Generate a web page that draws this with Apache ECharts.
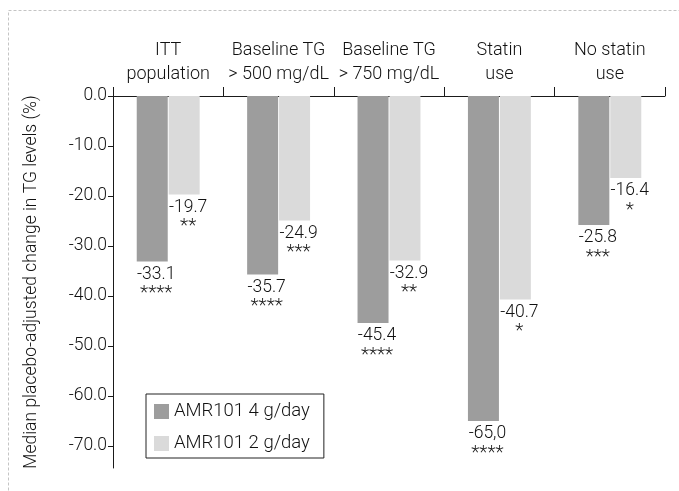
<!DOCTYPE html>
<html><head><meta charset="utf-8">
<script src="https://cdn.jsdelivr.net/npm/echarts@6/dist/echarts.min.js"></script>
<style>html,body{margin:0;padding:0;background:#fff}#c{width:679px;height:491px}</style>
</head><body><div id="c"></div>
<script>
const categories = ['ITT\npopulation', 'Baseline TG\n> 500 mg/dL', 'Baseline TG\n> 750 mg/dL', 'Statin\nuse', 'No statin\nuse'];
const dose4Values = [-33.1, -35.7, -45.4, -65.0, -25.8];
const dose2Values = [-19.7, -24.9, -32.9, -40.7, -16.4];
const dose4Text = ['-33.1', '-35.7', '-45.4', '-65,0', '-25.8'];
const dose2Text = ['-19.7', '-24.9', '-32.9', '-40.7', '-16.4'];
const dose4Stars = ['****', '****', '****', '****', '***'];
const dose2Stars = ['**', '***', '**', '*', '*'];
const yTicks = [0, -10, -20, -30, -40, -50, -60, -70];
const seriesNames = ['AMR101 4 g/day', 'AMR101 2 g/day'];

const FONT = 'Roboto';
const W = 300;
const TXT = '#111';
function mkLabel(texts, stars) {
  return {
    show: true, position: 'bottom', distance: 3, offset: [4, 0],
    formatter: p => '{v|' + texts[p.dataIndex] + '}\n{s|' + stars[p.dataIndex] + '}',
    rich: {
      v: { fontSize: 17.5, lineHeight: 20, color: TXT, fontFamily: FONT, fontWeight: W },
      s: { fontSize: 19, lineHeight: 18, color: '#222', fontFamily: FONT, fontWeight: W }
    }
  };
}
const chart = echarts.init(document.getElementById('c'));
chart.setOption({
  animation: false,
  textStyle: { fontFamily: FONT, color: TXT, fontWeight: W },
  graphic: [{
    type: 'rect', shape: { x: 8.5, y: 10.5, width: 720, height: 520 },
    style: { fill: 'none', stroke: '#c4c4c4', lineWidth: 1, lineDash: [3, 2] }, silent: true
  }],
  grid: { left: 113, right: 14, top: 96, bottom: 23, containLabel: false },
  legend: {
    orient: 'vertical', left: 146, top: 394,
    data: seriesNames,
    borderColor: '#222', borderWidth: 1, padding: [8, 14, 5, 8],
    itemWidth: 15, itemHeight: 15, itemGap: 13,
    icon: 'rect',
    textStyle: { fontSize: 18.5, color: TXT, fontFamily: FONT, fontWeight: W }
  },
  xAxis: {
    type: 'category', position: 'top', data: categories,
    axisLine: { show: true, onZero: false, lineStyle: { color: '#1a1a1a', width: 1 } },
    axisTick: { show: true, length: 9, lineStyle: { color: '#1a1a1a' } },
    axisLabel: { fontSize: 18, lineHeight: 24, color: TXT, margin: 10, interval: 0, fontFamily: FONT, fontWeight: W }
  },
  yAxis: {
    type: 'value', min: -74.4, max: 0,
    name: 'Median placebo-adjusted change in TG levels (%)',
    nameLocation: 'middle', nameGap: 72, nameRotate: 90,
    nameTextStyle: { fontSize: 17.5, color: TXT, fontFamily: FONT, fontWeight: W },
    splitLine: { show: false },
    axisLine: { show: true, lineStyle: { color: '#1a1a1a', width: 1 } },
    axisTick: { show: true, length: 5, customValues: yTicks, lineStyle: { color: '#1a1a1a' } },
    axisLabel: { customValues: yTicks, fontSize: 17.5, color: TXT, margin: 6, fontFamily: FONT, fontWeight: W,
      formatter: v => v.toFixed(1) }
  },
  series: [
    { name: seriesNames[0], type: 'bar', data: dose4Values, barWidth: 31, barGap: '3%',
      itemStyle: { color: '#9d9d9d' }, label: mkLabel(dose4Text, dose4Stars) },
    { name: seriesNames[1], type: 'bar', data: dose2Values, barWidth: 31,
      itemStyle: { color: '#dadada' }, label: mkLabel(dose2Text, dose2Stars) }
  ]
});
</script></body></html>
